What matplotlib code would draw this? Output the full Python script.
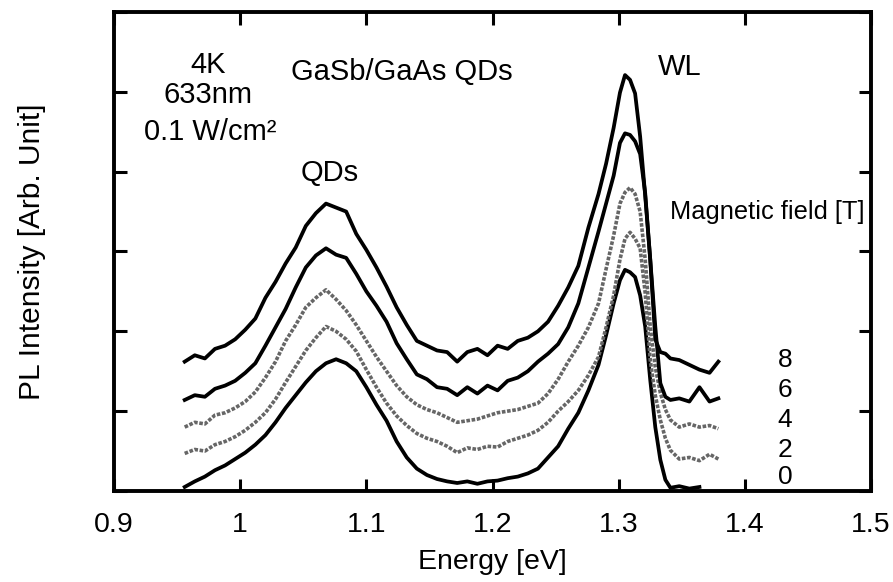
import numpy as np
import matplotlib.pyplot as plt
import matplotlib.ticker as plticker

plt.rcParams['font.family'] = ['Liberation Sans', 'DejaVu Sans']

# photon energy grid (eV)
energy = [0.956, 0.964, 0.972, 0.980, 0.988, 0.996, 1.004, 1.012, 1.020, 1.028,
          1.036, 1.044, 1.052, 1.060, 1.068, 1.076, 1.084, 1.092, 1.100, 1.108,
          1.116, 1.124, 1.132, 1.140, 1.148, 1.156, 1.164, 1.172, 1.180, 1.188,
          1.196, 1.204, 1.212, 1.220, 1.228, 1.236, 1.244, 1.252, 1.260, 1.268,
          1.276, 1.284, 1.290, 1.296, 1.301, 1.305, 1.309, 1.313, 1.317, 1.321,
          1.325, 1.329, 1.333, 1.337, 1.341, 1.348, 1.356, 1.364, 1.372, 1.379]

# PL spectra, offset per field (arb. unit)
pl_8T = [1.62, 1.70, 1.66, 1.78, 1.82, 1.90, 2.02, 2.16, 2.42, 2.62,
         2.85, 3.05, 3.32, 3.48, 3.60, 3.55, 3.50, 3.22, 3.02, 2.80,
         2.56, 2.30, 2.08, 1.88, 1.82, 1.76, 1.74, 1.62, 1.74, 1.78,
         1.70, 1.82, 1.78, 1.88, 1.92, 2.00, 2.12, 2.32, 2.55, 2.82,
         3.30, 3.72, 4.10, 4.55, 4.99, 5.21, 5.15, 4.98, 4.44, 3.70,
         2.90, 1.90, 1.74, 1.72, 1.66, 1.64, 1.58, 1.52, 1.48, 1.62]
pl_6T = [1.14, 1.20, 1.18, 1.28, 1.32, 1.38, 1.48, 1.60, 1.82, 2.05,
         2.28, 2.55, 2.80, 2.95, 3.04, 2.96, 2.92, 2.72, 2.50, 2.32,
         2.12, 1.85, 1.65, 1.46, 1.40, 1.30, 1.28, 1.20, 1.30, 1.22,
         1.32, 1.26, 1.38, 1.42, 1.50, 1.62, 1.72, 1.84, 2.05, 2.35,
         2.80, 3.25, 3.60, 3.95, 4.36, 4.48, 4.46, 4.38, 4.22, 3.73,
         2.90, 2.06, 1.35, 1.18, 1.14, 1.16, 1.12, 1.30, 1.12, 1.16]
pl_4T = [0.80, 0.86, 0.84, 0.95, 0.98, 1.04, 1.12, 1.24, 1.42, 1.62,
         1.88, 2.08, 2.30, 2.42, 2.52, 2.40, 2.26, 2.08, 1.88, 1.68,
         1.50, 1.32, 1.18, 1.08, 1.02, 0.98, 0.92, 0.86, 0.88, 0.90,
         0.94, 0.98, 1.00, 1.02, 1.06, 1.10, 1.22, 1.40, 1.62, 1.82,
         2.05, 2.35, 2.78, 3.20, 3.60, 3.74, 3.80, 3.72, 3.50, 2.90,
         2.06, 1.55, 1.23, 1.02, 0.89, 0.80, 0.84, 0.80, 0.82, 0.78]
pl_2T = [0.47, 0.52, 0.50, 0.58, 0.62, 0.68, 0.76, 0.86, 0.98, 1.15,
         1.36, 1.56, 1.76, 1.92, 2.06, 2.00, 1.90, 1.75, 1.52, 1.30,
         1.10, 0.94, 0.82, 0.72, 0.66, 0.62, 0.56, 0.48, 0.54, 0.52,
         0.56, 0.55, 0.62, 0.66, 0.70, 0.76, 0.86, 1.00, 1.12, 1.26,
         1.45, 1.68, 2.05, 2.45, 2.90, 3.16, 3.24, 3.16, 3.04, 2.48,
         1.64, 1.20, 0.89, 0.66, 0.51, 0.40, 0.42, 0.38, 0.46, 0.40]
pl_0T = [0.05, 0.12, 0.18, 0.26, 0.32, 0.40, 0.48, 0.58, 0.70, 0.86,
         1.04, 1.20, 1.36, 1.50, 1.60, 1.65, 1.60, 1.50, 1.30, 1.08,
         0.88, 0.62, 0.42, 0.28, 0.20, 0.15, 0.12, 0.10, 0.12, 0.09,
         0.12, 0.13, 0.16, 0.18, 0.22, 0.28, 0.42, 0.56, 0.78, 0.98,
         1.26, 1.58, 1.95, 2.35, 2.64, 2.77, 2.74, 2.68, 2.45, 2.06,
         1.39, 0.80, 0.39, 0.14, 0.04, 0.06, 0.03, 0.05, np.nan, np.nan]

fields = ['8', '6', '4', '2', '0']
field_y = [1.64, 1.27, 0.89, 0.51, 0.18]

fig = plt.figure(figsize=(8.93, 5.82), dpi=100)
ax = fig.add_axes([0.1277, 0.1564, 0.8477, 0.823])

E = np.array(energy)
black = dict(color='black', lw=2.7, solid_joinstyle='round')
grey = dict(color='0.4', lw=2.6, linestyle=(0, (1.0, 0.45)))
ax.plot(E, pl_0T, **black)
ax.plot(E, pl_2T, **grey)
ax.plot(E, pl_4T, **grey)
ax.plot(E, pl_6T, **black)
ax.plot(E, pl_8T, **black)

ax.set_xlim(0.9, 1.5)
ax.set_ylim(0, 6)
ax.xaxis.set_major_locator(plticker.MultipleLocator(0.1))
ax.xaxis.set_major_formatter(plticker.FuncFormatter(lambda v, p: '%g' % round(v, 2)))
ax.yaxis.set_major_locator(plticker.MultipleLocator(1))
ax.tick_params(direction='in', length=9, width=2.2, top=True, right=True,
               labelsize=20.5, pad=15)
ax.tick_params(axis='y', labelleft=False)
for s in ax.spines.values():
    s.set_linewidth(2.8)

ax.set_xlabel('Energy [eV]', fontsize=20.5, labelpad=8)
ax.set_ylabel('PL Intensity [Arb. Unit]', fontsize=21.5)
ax.yaxis.set_label_coords(-0.09, 0.5)

txt = dict(ha='center', va='center', fontsize=21)
ax.text(0.9745, 5.34, '4K', **txt)
ax.text(0.9745, 4.96, '633nm', **txt)
ax.text(0.976, 4.50, '0.1 W/cm²', **txt)
ax.text(1.128, 5.25, 'GaSb/GaAs QDs', **txt)
ax.text(1.071, 3.98, 'QDs', **txt)
ax.text(1.3485, 5.31, 'WL', **txt)
ax.text(1.4175, 3.50, 'Magnetic field [T]', ha='center', va='center', fontsize=18.3)
for f, y in zip(fields, field_y):
    ax.text(1.4317, y, f, ha='center', va='center', fontsize=19)

plt.savefig('out.png', dpi=100, facecolor='white')
plt.close()
